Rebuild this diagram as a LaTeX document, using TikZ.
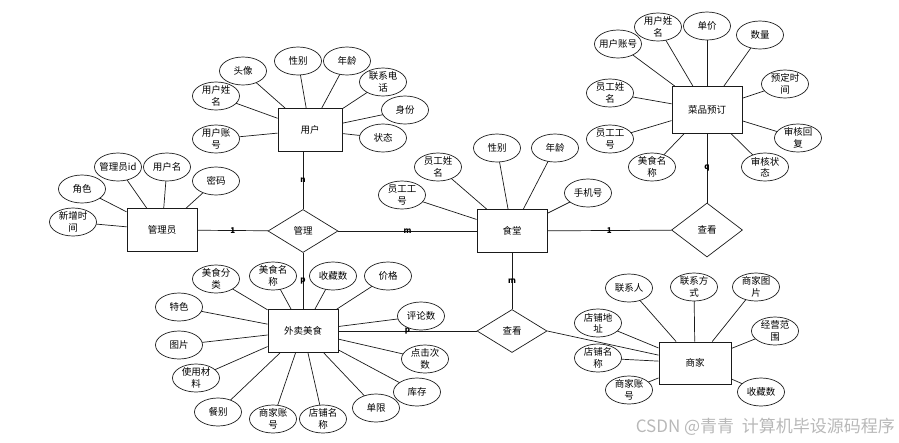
\documentclass[tikz,border=0pt]{standalone}
\usepackage{fontspec}
\setmainfont{Noto Sans CJK SC}
\usetikzlibrary{shapes.geometric}
\definecolor{ErBlack}{HTML}{1A1A1A}
\definecolor{MarkGray}{HTML}{B8B8B8}

\begin{document}
\begin{tikzpicture}[x=1pt, y=-1pt,
    entity/.style={draw=ErBlack, line width=0.9pt, fill=white, minimum width=70pt,
        minimum height=43pt, inner sep=0pt, font=\fontsize{9.5}{11}\selectfont},
    attr/.style={draw=ErBlack, ellipse, line width=0.7pt, fill=white, minimum width=47pt,
        minimum height=28pt, inner sep=-3pt, align=center, font=\fontsize{9.5}{11.5}\selectfont},
    rel/.style={draw=ErBlack, diamond, line width=0.7pt, fill=white, minimum width=70pt,
        minimum height=43pt, inner sep=0pt, font=\fontsize{9.5}{11}\selectfont},
    link/.style={draw=ErBlack, line width=0.7pt},
    card/.style={inner sep=0pt, font=\fontsize{8}{8}\selectfont\bfseries}]
    \useasboundingbox (0,0) rectangle (899,442);

    % Entities and relations
    \node[entity, minimum width=64pt] (user) at (310,130) {用户};
    \node[entity] (admin) at (162,230) {管理员};
    \node[entity] (food) at (303,331) {外卖美食};
    \node[entity] (canteen) at (512,231) {食堂};
    \node[entity, minimum height=47pt] (order) at (707,110) {菜品预订};
    \node[entity, minimum width=72pt, minimum height=42pt] (shop) at (695,363) {商家};
    \node[rel] (manage) at (303,231) {管理};
    \node[rel, minimum width=71pt, minimum height=54pt] (viewA) at (707,230) {查看};
    \node[rel] (viewB) at (512,331) {查看};

    % Connectors with cardinalities
    \draw[link] (admin) -- node[card] (cAdmin) {1} (manage);
    \draw[link] (manage) -- node[card] (cCanteen) {m} (canteen);
    \draw[link] (manage.north) -- node[card] (cUser) {n} (manage.north |- user.south);
    \draw[link] (manage) -- node[card] (cFood) {p} (food);
    \draw[link] (canteen) -- node[card] (cViewA) {1} (viewA);
    \draw[link] (viewA) -- node[card] (cOrder) {q} (order);
    \draw[link] (canteen) -- node[card] (cViewB) {m} (viewB);
    \draw[link] (food) -- node[card] (cFoodB) {p} (viewB);
    \draw[link] (viewB.east) -- (shop);

    % User attributes
    \foreach \n/\x/\y/\t in {uAvatar/243/71/头像, uSex/298/61/性别, uAge/347/61/年龄,
        uTel/383/82/{联系电\\话}, uRole/405/110/身份, uState/383/138/状态,
        uName/216/96/{用户姓\\名}, uAcc/216/139/{用户账\\号}} {
        \draw[link] (\x,\y) -- (user);
        \node[attr] (\n) at (\x,\y) {\t};
    }
    % Admin attributes
    \foreach \n/\x/\y/\t in {aId/118/167/管理员id, aName/167/167/用户名, aPwd/216/181/密码,
        aRole/82/189/角色, aTime/73/222/{新增时\\间}} {
        \draw[link] (\x,\y) -- (admin);
        \node[attr] (\n) at (\x,\y) {\t};
    }
    % Food attributes
    \foreach \n/\x/\y/\t in {fType/216/279/{美食分\\类}, fName/273/276/{美食名\\称},
        fFav/333/276/收藏数, fPrice/388/276/价格, fCmt/421/316/评论数,
        fClick/425/359/{点击次\\数}, fStock/417/392/库存, fLimit/376/408/单限,
        fShop/323/419/{店铺名\\称}, fAcc/273/419/{商家账\\号}, fMeal/218/412/餐别,
        fStuff/196/378/{使用材\\料}, fPic/179/345/图片, fFeat/179/307/特色} {
        \draw[link] (\x,\y) -- (food);
        \node[attr] (\n) at (\x,\y) {\t};
    }
    % Canteen attributes
    \foreach \n/\x/\y/\t in {cNo/402/195/{员工工\\号}, cName/438/167/{员工姓\\名},
        cSex/497/148/性别, cAge/555/148/年龄, cTel/588/193/手机号} {
        \draw[link] (\x,\y) -- (canteen);
        \node[attr] (\n) at (\x,\y) {\t};
    }
    % Order attributes
    \foreach \n/\x/\y/\t in {oAcc/618/44/用户账号, oName/658/27/{用户姓\\名}, oPrice/707/26/单价,
        oNum/760/35/数量, oTime/785/84/{预定时\\间}, oReply/798/138/{审核回\\复},
        oState/765/167/{审核状\\态}, oFood/652/167/{美食名\\称}, oNo/610/139/{员工工\\号},
        oStaff/610/93/{员工姓\\名}} {
        \draw[link] (\x,\y) -- (order);
        \node[attr] (\n) at (\x,\y) {\t};
    }
    % Shop attributes
    \foreach \n/\x/\y/\t in {sMan/629/288/联系人, sTel/694/287/{联系方\\式},
        sPic/756/287/{商家图\\片}, sScope/775/331/{经营范\\围}, sFav/761/392/收藏数,
        sAcc/629/390/{商家账\\号}, sName/598/358/{店铺名\\称}, sAddr/598/323/{店铺地\\址}} {
        \draw[link] (\x,\y) -- (shop);
        \node[attr] (\n) at (\x,\y) {\t};
    }

    % Watermark
    \node[anchor=east, MarkGray, inner sep=0pt, font=\fontsize{17}{17}\selectfont] (mark) at (895,427) {CSDN @青青\ \ 计算机毕设源码程序};
\end{tikzpicture}
\end{document}
